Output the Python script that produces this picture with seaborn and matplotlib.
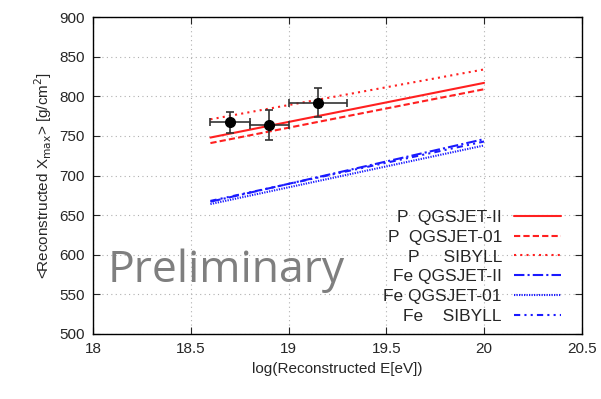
import numpy as np
import pandas as pd
import matplotlib
matplotlib.use('Agg')
import matplotlib.pyplot as plt
import seaborn as sns

# measured points
data_E = [18.7, 18.9, 19.15]
data_xmax = [767, 764, 792]
data_exlo = [0.1, 0.1, 0.15]
data_exhi = [0.1, 0.1, 0.15]
data_ey = [13, 19, 18]

# model predictions (start, end)
model_E = [18.6, 20.0]
model_names = ['P  QGSJET-II', 'P  QGSJET-01', 'P     SIBYLL',
               'Fe QGSJET-II', 'Fe QGSJET-01', 'Fe    SIBYLL']
model_vals = [[748, 817], [741, 809], [771, 834],
              [667, 746], [664, 738], [668, 743]]
model_colors = ['#ff2020', '#ff2020', '#ff2020', '#1a1aff', '#1a1aff', '#1a1aff']
model_styles = ['-', (0, (3, 1.5)), (0, (1, 2)), (0, (5, 1.5, 1, 1.5)),
                (0, (0.6, 0.6)), (0, (3, 2, 1, 2, 1, 2))]

sns.set_style('ticks')
plt.rcParams['font.family'] = ['Liberation Sans', 'DejaVu Sans']

fig = plt.figure(figsize=(6.01, 3.99), dpi=100)
ax = fig.add_axes([0.155, 0.163, 0.813, 0.794])

for name, vals, c, ls in zip(model_names, model_vals, model_colors, model_styles):
    df = pd.DataFrame({'E': model_E, 'X': vals})
    sns.lineplot(data=df, x='E', y='X', ax=ax, color=c, linestyle=ls,
                 linewidth=1.5, label=name)

ax.errorbar(data_E, data_xmax, xerr=[data_exlo, data_exhi], yerr=data_ey,
            fmt='o', color='black', ecolor='#333333', markersize=7,
            elinewidth=1.2, capsize=3, capthick=1.2, zorder=5)

ax.set_xlim(18, 20.5)
ax.set_ylim(500, 900)
ax.set_xticks(np.arange(18, 20.51, 0.5))
ax.set_xticklabels(['18', '18.5', '19', '19.5', '20', '20.5'])
ax.set_yticks(np.arange(500, 901, 50))
ax.grid(True, color='#b0b0b0', linestyle=(0, (1, 3)), linewidth=0.8)
ax.tick_params(direction='in', length=5, top=True, right=True, labelsize=11,
               pad=6)
for s in ax.spines.values():
    s.set_linewidth(1.0)
    s.set_color('black')

ax.set_xlabel('log(Reconstructed E[eV])', fontsize=11)
ax.set_ylabel(r'<Reconstructed X$_{\rm max}$> [g/cm$^2$]', fontsize=11)

leg = ax.legend(loc='lower right', bbox_to_anchor=(0.99, -0.018), frameon=False,
                markerfirst=False, fontsize=12.5, handlelength=2.75,
                labelspacing=0.27, handletextpad=0.67)

ax.text(0.03, 0.20, 'Preliminary', transform=ax.transAxes, fontsize=32,
        color='#7f7f7f', family=['Open Sans', 'DejaVu Sans'], va='center')

fig.savefig('out.png', dpi=100)
